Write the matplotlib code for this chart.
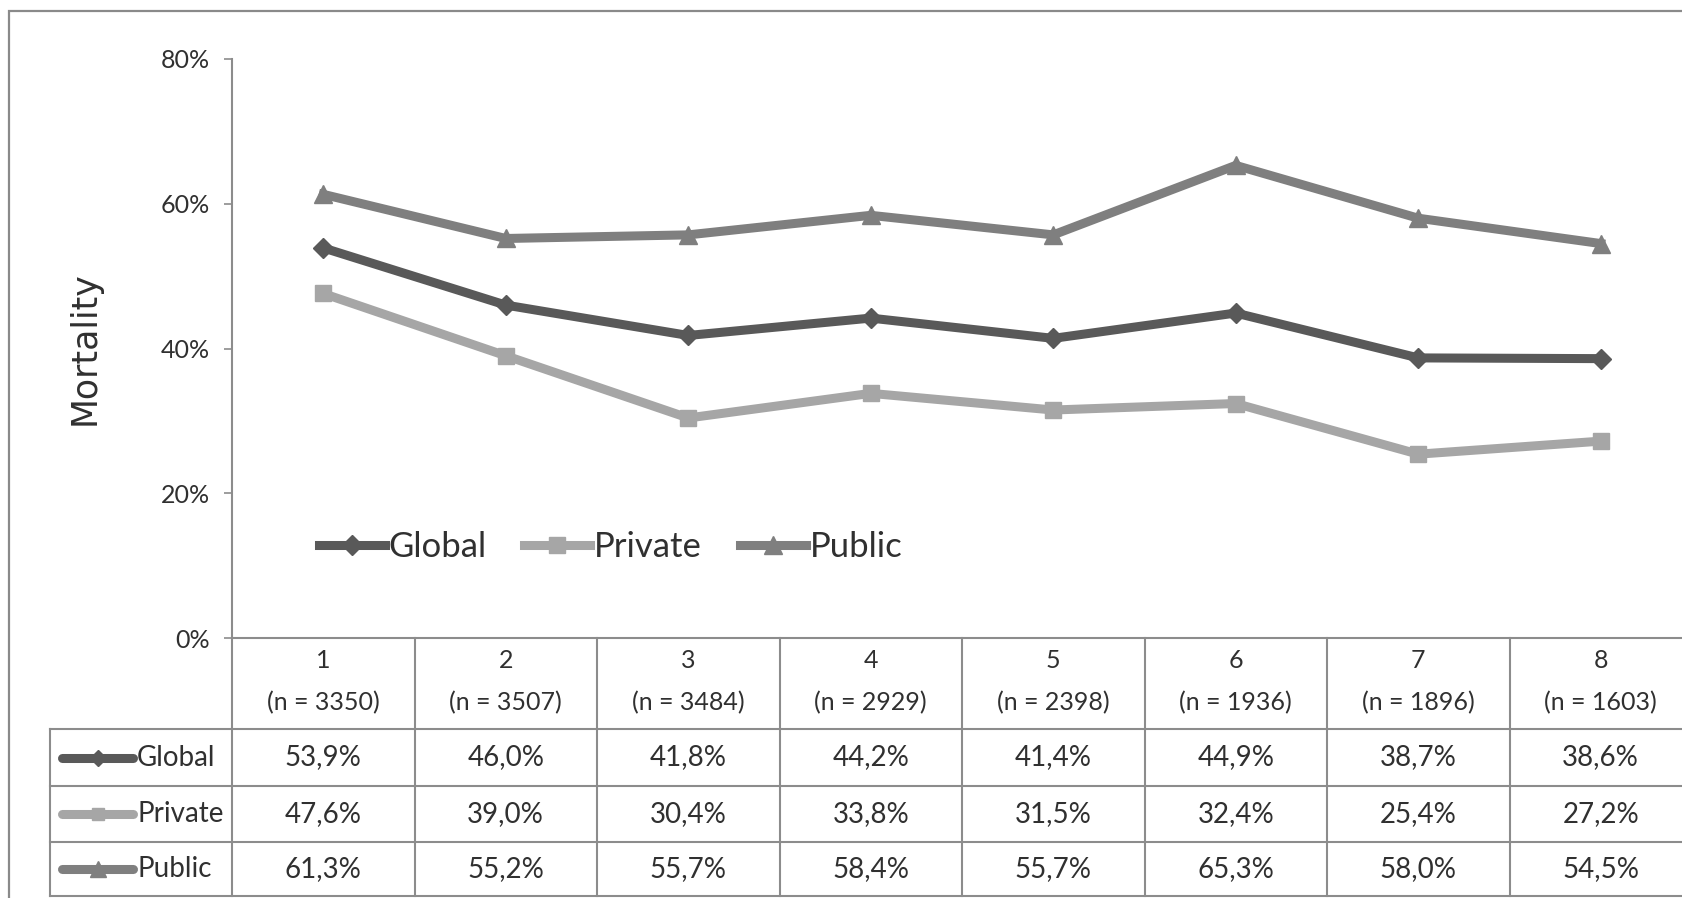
import matplotlib
matplotlib.use("Agg")
import matplotlib.pyplot as plt
from matplotlib.lines import Line2D
from matplotlib.patches import Rectangle
from matplotlib.transforms import blended_transform_factory

# mortality per period
periods = ["1", "2", "3", "4", "5", "6", "7", "8"]
n_counts = [3350, 3507, 3484, 2929, 2398, 1936, 1896, 1603]
global_vals = [53.9, 46.0, 41.8, 44.2, 41.4, 44.9, 38.7, 38.6]
private_vals = [47.6, 39.0, 30.4, 33.8, 31.5, 32.4, 25.4, 27.2]
public_vals = [61.3, 55.2, 55.7, 58.4, 55.7, 65.3, 58.0, 54.5]

series = [
    ("Global", global_vals, "#595959", "D", 10),
    ("Private", private_vals, "#a6a6a6", "s", 11),
    ("Public", public_vals, "#7f7f7f", "^", 13),
]

W, H = 1682, 898
narrow = ["Lato", "DejaVu Sans"]
grid_col = "#8c8c8c"
txt_col = "#303030"

fig = plt.figure(figsize=(W / 100, H / 100), dpi=100)
fig.patch.set_facecolor("white")


def fy(px):
    return 1 - px / H


# axes box in pixels
ax_left, ax_right, ax_top, ax_bottom = 232, 1692, 59, 638
ax = fig.add_axes([ax_left / W, fy(ax_bottom), (ax_right - ax_left) / W,
                   (ax_bottom - ax_top) / H])

x = list(range(1, len(periods) + 1))
for name, vals, col, mk, ms in series:
    ax.plot(x, [v / 100 for v in vals], color=col, lw=6.5, marker=mk,
            ms=ms, mec=col, mfc=col, label=name, solid_joinstyle="miter")

ax.set_xlim(0.5, len(periods) + 0.5)
ax.set_ylim(0, 0.8)
ax.set_yticks([0, 0.2, 0.4, 0.6, 0.8])
ax.set_yticklabels(["0%", "20%", "40%", "60%", "80%"], family=narrow,
                   fontsize=18, color=txt_col)
ax.tick_params(axis="y", length=6, width=1.2, color=grid_col, pad=10)
ax.set_xticks([])
for s in ["top", "right", "bottom"]:
    ax.spines[s].set_visible(False)
ax.spines["left"].set_color(grid_col)
ax.spines["left"].set_linewidth(1.5)
ax.patch.set_alpha(0)

ax.set_ylabel("Mortality", fontsize=25, color=txt_col,
              family="DejaVu Sans")
ax.yaxis.set_label_coords(-0.089, 0.5)

leg = ax.legend(loc="center left", bbox_to_anchor=(0.038, 0.157), ncol=3,
                frameon=False, prop={"family": narrow, "size": 25},
                handlelength=1.9, handletextpad=0.1, columnspacing=1.1,
                labelcolor=txt_col)

# data table below the plot
tr = blended_transform_factory(ax.transData, fig.transFigure)
row_lines = [638, 729, 786, 842, 896]
x_lo, x_hi = -0.5, len(periods) + 0.5


def hline(px, x0, x1):
    fig.add_artist(Line2D([x0, x1], [fy(px), fy(px)], transform=tr,
                          color=grid_col, lw=1.5, clip_on=False))


def vline(xd, p0, p1):
    fig.add_artist(Line2D([xd, xd], [fy(p0), fy(p1)], transform=tr,
                          color=grid_col, lw=1.5, clip_on=False))


hline(row_lines[0], 0.5, x_hi)
for r in row_lines[1:]:
    hline(r, x_lo, x_hi)
for i in range(len(periods) + 1):
    vline(0.5 + i, row_lines[0], row_lines[-1])
vline(x_lo, row_lines[1], row_lines[-1])

for i, (p, n) in enumerate(zip(periods, n_counts)):
    fig.text(i + 1, fy(661), p, transform=tr, ha="center", va="center",
             family=narrow, fontsize=18, color=txt_col)
    fig.text(i + 1, fy(703), f"(n = {n})", transform=tr, ha="center",
             va="center", family=narrow, fontsize=18, color=txt_col)

for r, (name, vals, col, mk, ms) in enumerate(series):
    yc = (row_lines[r + 1] + row_lines[r + 2]) / 2
    fig.add_artist(Line2D([-0.43, -0.04], [fy(yc), fy(yc)], transform=tr,
                          color=col, lw=6.5, clip_on=False,
                          solid_capstyle="round"))
    fig.add_artist(Line2D([-0.235], [fy(yc)], transform=tr, color=col,
                          marker=mk, ms=ms * 0.85, mec=col, mfc=col,
                          clip_on=False))
    fig.text(-0.02, fy(yc), name, transform=tr, ha="left", va="center",
             family=narrow, fontsize=20, color=txt_col)
    for i, v in enumerate(vals):
        fig.text(i + 1, fy(yc), f"{v:.1f}%".replace(".", ","), transform=tr,
                 ha="center", va="center", family=narrow, fontsize=20,
                 color=txt_col)

# outer chart frame
fig.add_artist(Rectangle((9 / W, -0.05), 1.1, fy(11) + 0.05,
                         transform=fig.transFigure, fill=False,
                         ec="#8a8a8a", lw=1.6))

fig.savefig("out.png", dpi=100)
